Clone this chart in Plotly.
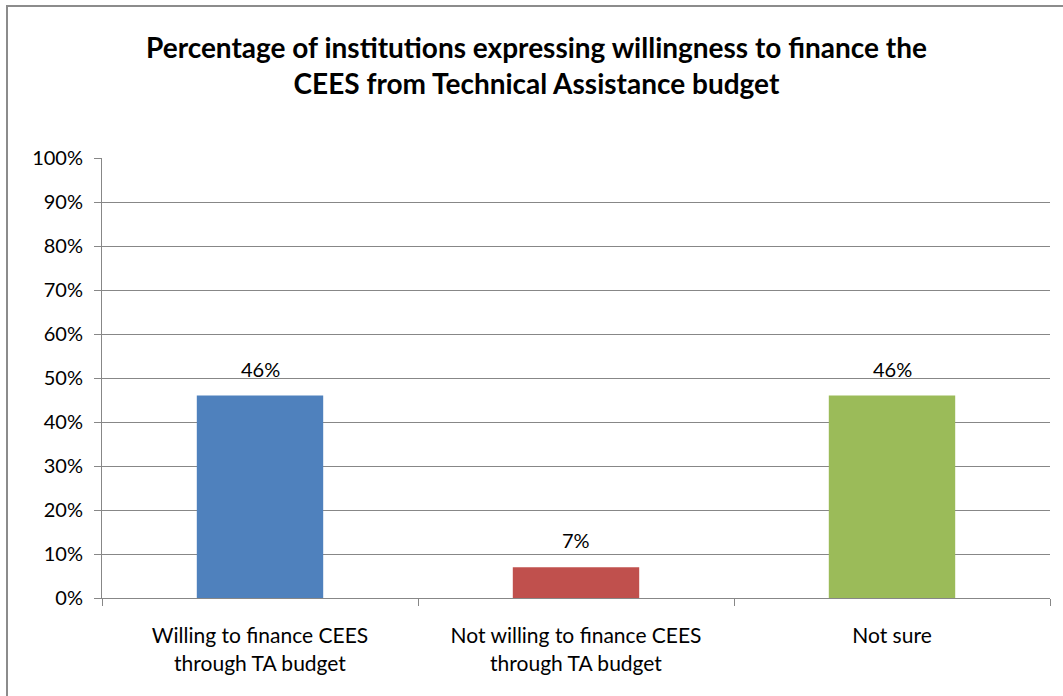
import plotly.graph_objects as go

# Survey responses
categories = [
    "Willing to finance CEES<br>through TA budget",
    "Not willing to finance CEES<br>through TA budget",
    "Not sure",
]
shares = [46, 7, 46]  # percent of institutions
bar_colors = ["#4F81BD", "#C0504D", "#9BBB59"]
y_ticks = list(range(0, 101, 10))
y_tick_labels = [f"{v}%" for v in y_ticks]

title_text = ("<b>Percentage of institutions expressing willingness to finance the<br>"
              "CEES from Technical Assistance budget</b>")

FONT = "Lato, Calibri, Carlito, sans-serif"
GRID = "#878787"

fig = go.Figure(
    go.Bar(
        x=categories,
        y=shares,
        marker=dict(color=bar_colors, line=dict(width=0)),
        width=0.4,
        hoverinfo="x+y",
    )
)

# value labels above each bar
value_labels = [
    dict(
        x=c, y=v, xref="x", yref="y",
        text=f"{v}%", showarrow=False,
        yanchor="bottom", yshift=13,
        font=dict(size=20, family=FONT, color="#000000"),
    )
    for c, v in zip(categories, shares)
]

fig.update_layout(
    width=1063,
    height=696,
    margin=dict(l=102, r=13, t=158, b=98),
    paper_bgcolor="white",
    plot_bgcolor="white",
    font=dict(family=FONT, size=20, color="#000000"),
    showlegend=False,
    annotations=[
        dict(
            text=title_text,
            xref="paper", yref="paper",
            x=(536 - 102) / 948, y=1 + (158 - 65) / 440,
            xanchor="center", yanchor="middle",
            showarrow=False,
            font=dict(size=28, family=FONT, color="#000000"),
            align="center",
        )
    ] + value_labels,
    shapes=[
        # outer chart frame
        dict(
            type="rect", xref="paper", yref="paper",
            x0=(7 - 102) / 948, x1=1.2,
            y0=-0.5, y1=1 + (158 - 6) / 440,
            line=dict(color="#8c8c8c", width=2),
            layer="below",
        )
    ],
)

fig.update_xaxes(
    showline=True, linecolor=GRID, linewidth=1,
    ticks="outside", tickson="boundaries", ticklen=7, tickcolor=GRID,
    showgrid=False,
    tickfont=dict(size=21, family=FONT),
    ticklabelstandoff=19,
)
fig.update_yaxes(
    range=[0, 100],
    tickvals=y_ticks, ticktext=y_tick_labels,
    showline=True, linecolor=GRID, linewidth=1,
    ticks="outside", ticklen=7, tickcolor=GRID,
    showgrid=True, gridcolor=GRID, gridwidth=1,
    zeroline=False,
    tickfont=dict(size=20, family=FONT),
    ticklabelstandoff=7,
)

fig.write_html("out.html")
